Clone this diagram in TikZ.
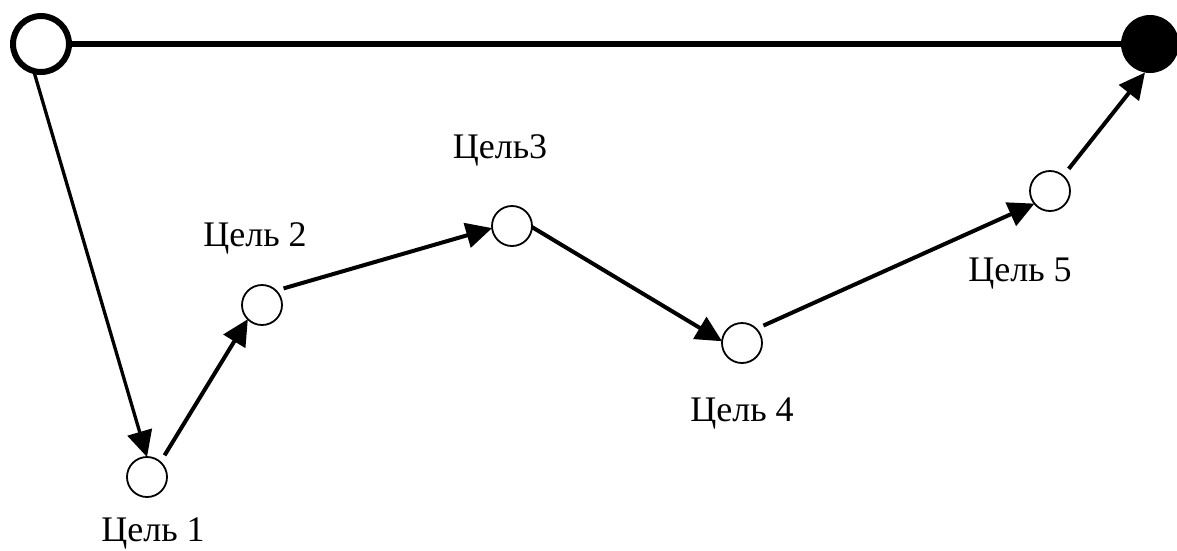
\documentclass[tikz,border=0pt]{standalone}
\usepackage{fontspec}
\setmainfont{Liberation Serif}
\usetikzlibrary{arrows.meta}
\tikzset{
  goal/.style={circle, draw, line width=1.8pt, fill=white, minimum size=40pt, inner sep=0pt, outer sep=0pt},
  startnode/.style={circle, draw, line width=6pt, fill=white, minimum size=56pt, inner sep=0pt, outer sep=0pt},
  endnode/.style={circle, fill=black, minimum size=58pt, inner sep=0pt, outer sep=0pt},
  lbl/.style={anchor=base, inner sep=0pt, font=\fontsize{36}{42}\selectfont},
  arr/.style={line width=4pt, -{Triangle[length=26pt,width=25pt]}},
}
\begin{document}
\begin{tikzpicture}[x=1pt,y=-1pt]
\useasboundingbox (0,0) rectangle (1177,550);
\node[startnode] (S) at (41,44) {};
\node[endnode] (E) at (1150,44) {};
\node[goal] (G1) at (147,477) {};
\node[goal] (G2) at (262,305) {};
\node[goal] (G3) at (512,226) {};
\node[goal] (G4) at (742,343) {};
\node[goal] (G5) at (1050,191) {};
\node[lbl] (L1) at (153,541) {Цель 1};
\node[lbl] (L2) at (255,246) {Цель 2};
\node[lbl] (L3) at (500,158) {Цель3};
\node[lbl] (L4) at (742,421) {Цель 4};
\node[lbl] (L5) at (1020,281) {Цель 5};
\draw[line width=5.5pt] (S.east) -- (E.west);
\draw[arr, line width=3.3pt] (S.255) -- (G1.north);
\draw[arr, shorten <=8pt] (G1.48) -- (G2.225);
\draw[arr, shorten <=8pt] (G2.46) -- (G3.186);
\draw[arr] (G3.-3) -- (G4.175);
\draw[arr, shorten <=8pt] (G4.45) -- (G5.219);
\draw[arr, shorten <=9pt] (G5.49) -- (E.260);
\end{tikzpicture}
\end{document}
